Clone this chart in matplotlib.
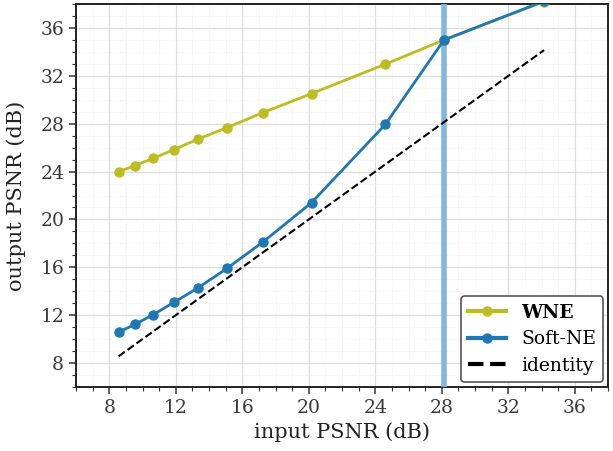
import matplotlib
matplotlib.use('Agg')
import matplotlib.pyplot as plt
from matplotlib.ticker import MultipleLocator, AutoMinorLocator

plt.rcParams['font.family'] = ['DejaVu Serif']

# input PSNR for noise sigma 95..5
input_psnr = [8.56, 9.53, 10.63, 11.87, 13.32, 15.07, 17.25, 20.17, 24.61, 28.13, 34.15]
wne = [23.99, 24.5, 25.1, 25.83, 26.7, 27.67, 28.93, 30.52, 32.98, 35.0, 38.2]
soft_ne = [10.58, 11.22, 12.03, 13.06, 14.26, 15.9, 18.12, 21.41, 27.95, 35.0, 38.25]
train_psnr = 28.13

fig = plt.figure(figsize=(6.13, 4.51), dpi=100)
ax = fig.add_axes([0.124, 0.142, 0.868, 0.849])

ax.axvline(train_psnr, color='#82b8e0', lw=4, zorder=3)
ax.plot(input_psnr, wne, '-o', color='#bcbd22', lw=2, ms=6.5, label='WNE', zorder=4)
ax.plot(input_psnr, soft_ne, '-o', color='#1f77b4', lw=2, ms=6.5, label='Soft-NE', zorder=5)
ax.plot(input_psnr, input_psnr, '--', color='black', lw=1.5, label='identity', zorder=4)

ax.set_xlim(6, 38)
ax.set_ylim(6, 38)
ax.xaxis.set_major_locator(MultipleLocator(4))
ax.yaxis.set_major_locator(MultipleLocator(4))
ax.xaxis.set_minor_locator(AutoMinorLocator(4))
ax.yaxis.set_minor_locator(AutoMinorLocator(4))
ax.grid(which='major', color='#dddddd', lw=0.9)
ax.grid(which='minor', color='#eeeeee', lw=0.7, ls=':')
ax.set_axisbelow(True)

for s in ax.spines.values():
    s.set_linewidth(1.4)
    s.set_color('#222222')
ax.tick_params(which='major', length=5, width=1.1, labelsize=13.5, colors='#333333', labelcolor='#3a3a3a')
ax.tick_params(which='minor', length=3, width=0.8, colors='#333333')

ax.set_xlabel('input PSNR (dB)', fontsize=15, color='#222222', labelpad=4)
ax.set_ylabel('output PSNR (dB)', fontsize=15, color='#222222', labelpad=10)

leg = ax.legend(loc='lower right', fontsize=13.5, frameon=True, fancybox=True,
                edgecolor='#555555', framealpha=1.0, borderaxespad=0.25,
                handlelength=2.0, labelspacing=0.45)
leg.get_frame().set_linewidth(1.2)
leg.get_texts()[0].set_fontweight('bold')
for h in leg.get_lines():
    h.set_linewidth(3)

fig.savefig('out.png', dpi=100)
